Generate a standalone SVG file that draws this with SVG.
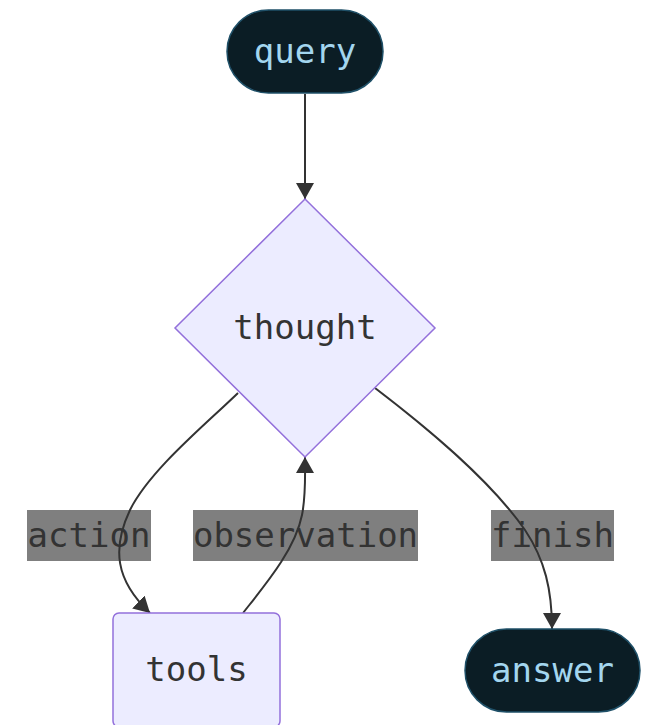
<svg xmlns="http://www.w3.org/2000/svg" width="651" height="725" viewBox="0 0 651 725">
  <style>
    .txt { font-family: "DejaVu Sans Mono", "Liberation Mono", monospace; font-size: 34px; text-anchor: middle; dominant-baseline: central; }
    .terminal rect { fill: #0b1d25; stroke: #1f5068; stroke-width: 1.5; }
    .terminal text { fill: #a3d6ef; }
    .step rect, .step polygon { fill: #ececff; stroke: #9370db; stroke-width: 1.5; }
    .step text { fill: #333333; }
    .edge { fill: none; stroke: #333333; stroke-width: 2; }
    .lbl rect { fill: #7f7f7f; }
    .lbl text { fill: #333333; }
  </style>
  <defs>
    <marker id="arrow" markerUnits="userSpaceOnUse" viewBox="0 0 16 18" refX="16" refY="9" markerWidth="16" markerHeight="18" orient="auto">
      <path d="M0,0 L16,9 L0,18 Z" fill="#333333"/>
    </marker>
  </defs>

  <!-- edge labels (drawn beneath the connector lines) -->
  <g id="labels">
    <g class="lbl" id="label-action">
      <rect x="27" y="510" width="124" height="51"/>
      <text class="txt" x="89" y="535">action</text>
    </g>
    <g class="lbl" id="label-observation">
      <rect x="193" y="510" width="225" height="51"/>
      <text class="txt" x="305.5" y="535">observation</text>
    </g>
    <g class="lbl" id="label-finish">
      <rect x="491" y="510" width="123" height="51"/>
      <text class="txt" x="552.5" y="535">finish</text>
    </g>
  </g>

  <!-- connectors -->
  <g id="edges">
    <path class="edge" d="M305,94 L305,199" marker-end="url(#arrow)"/>
    <path class="edge" d="M238,393 C205,425 150,470 130,510 C112,548 115,580 150,613" marker-end="url(#arrow)"/>
    <path class="edge" d="M243,613 C265,585 295,550 302,515 C306,495 305,478 305,457" marker-end="url(#arrow)"/>
    <path class="edge" d="M375,388 C430,430 490,480 525,530 C545,560 552,590 552,629" marker-end="url(#arrow)"/>
  </g>

  <!-- nodes -->
  <g id="query" class="terminal">
    <rect x="227" y="10" width="156" height="83" rx="41.5" ry="41.5"/>
    <text class="txt" x="305" y="51">query</text>
  </g>
  <g id="thought" class="step">
    <polygon points="305,199 435,328 305,457 175,328"/>
    <text class="txt" x="305" y="327">thought</text>
  </g>
  <g id="tools" class="step">
    <rect x="113" y="613" width="167" height="114" rx="6" ry="6"/>
    <text class="txt" x="196.5" y="669">tools</text>
  </g>
  <g id="answer" class="terminal">
    <rect x="465" y="629" width="175" height="83" rx="41.5" ry="41.5"/>
    <text class="txt" x="552.5" y="670">answer</text>
  </g>
</svg>
